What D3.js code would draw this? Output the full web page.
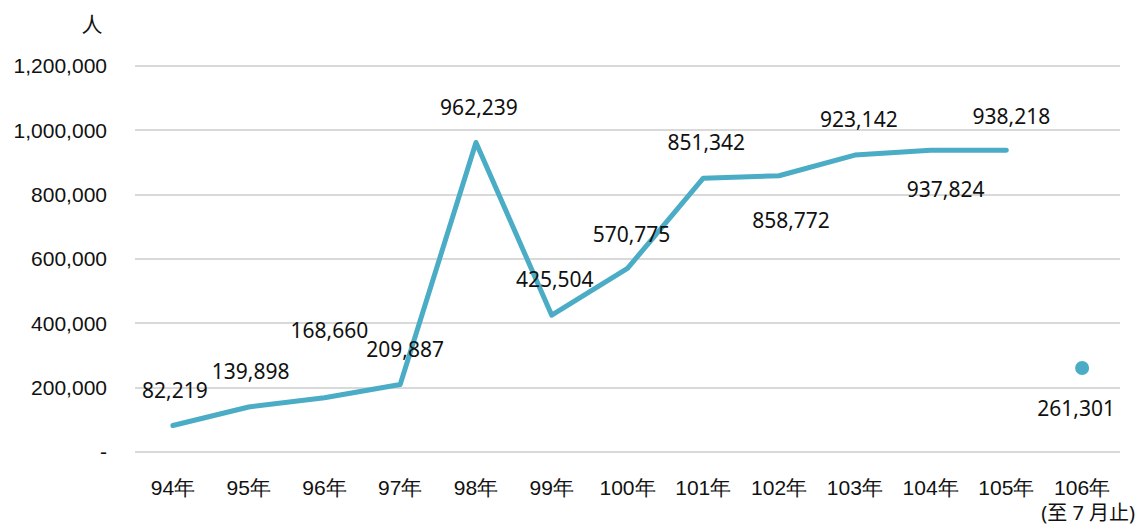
<!DOCTYPE html>
<html>
<head>
<meta charset="utf-8">
<script src="https://cdn.jsdelivr.net/npm/d3@7"></script>
<style>
  body { margin: 0; background: #fff; }
  svg { display: block; font-family: "Noto Sans", "Noto Sans CJK TC", sans-serif; }
  .grid line { stroke: #d9d9d9; stroke-width: 2; shape-rendering: crispEdges; }
  .axis text { font-size: 21px; fill: #111; }
  .lbl { font-size: 21px; fill: #111; }
</style>
</head>
<body>
<svg width="1142" height="529"></svg>
<script>
const years = ['94年', '95年', '96年', '97年', '98年', '99年', '100年', '101年', '102年', '103年', '104年', '105年', '106年'];
const visitors = [82219, 139898, 168660, 209887, 962239, 425504, 570775, 851342, 858772, 923142, 937824, 938218, 261301];
const yTicks = [0, 200000, 400000, 600000, 800000, 1000000, 1200000];
// the last year is only partial, drawn as a lone dot
const partialNote = '(至 7 月止)';
// label placement relative to each point: [dx, dy]
const labelNudge = [[2, -36], [2, -36], [5, -68], [5, -35], [3, -35], [3, -36], [4, -34], [3, -36], [12, 44], [4, -36], [15, 39], [5, -34], [-6, 40]];

const svg = d3.select('svg');
const margin = { top: 66, left: 135, right: 22, bottom: 77 };
const width = 1142 - margin.left - margin.right;
const height = 529 - margin.top - margin.bottom;

const x = d3.scaleBand().domain(years).range([0, width]);
const y = d3.scaleLinear().domain([0, 1200000]).range([height, 0]);
const fmt = d3.format(',');

const root = svg.append('g').attr('transform', `translate(${margin.left}, ${margin.top})`);

root.append('g')
  .attr('class', 'grid')
  .selectAll('line')
  .data(yTicks)
  .join('line')
  .attr('x1', 0)
  .attr('x2', width)
  .attr('y1', d => Math.round(y(d)))
  .attr('y2', d => Math.round(y(d)));

root.append('g')
  .attr('class', 'axis')
  .call(d3.axisLeft(y).tickValues(yTicks).tickFormat(d => d === 0 ? '-' : fmt(d)).tickSize(0).tickPadding(28))
  .call(g => g.select('.domain').remove());

root.append('g')
  .attr('class', 'axis')
  .attr('transform', `translate(0, ${height})`)
  .call(d3.axisBottom(x).tickSize(0).tickPadding(28))
  .call(g => g.select('.domain').remove());

root.append('text')
  .attr('class', 'lbl')
  .attr('x', x(years[years.length - 1]) + x.bandwidth() / 2 + 6)
  .attr('y', height + 68)
  .attr('text-anchor', 'middle')
  .style('font-size', '20px')
  .text(partialNote);

svg.append('text')
  .attr('class', 'lbl')
  .attr('x', 92)
  .attr('y', 32)
  .attr('text-anchor', 'middle')
  .text('人');

const cx = (d, i) => x(years[i]) + x.bandwidth() / 2;
const lineData = visitors.slice(0, visitors.length - 1);

root.append('path')
  .datum(lineData)
  .attr('fill', 'none')
  .attr('stroke', '#4bacc6')
  .attr('stroke-width', 5)
  .attr('stroke-linejoin', 'round')
  .attr('stroke-linecap', 'round')
  .attr('d', d3.line().x(cx).y(d => y(d)));

const last = visitors.length - 1;
root.append('circle')
  .attr('cx', cx(visitors[last], last))
  .attr('cy', y(visitors[last]))
  .attr('r', 7)
  .attr('fill', '#4bacc6');

root.append('g')
  .selectAll('text')
  .data(visitors)
  .join('text')
  .attr('class', 'lbl')
  .attr('text-anchor', 'middle')
  .attr('dominant-baseline', 'central')
  .attr('x', (d, i) => cx(d, i) + labelNudge[i][0])
  .attr('y', (d, i) => y(d) + labelNudge[i][1])
  .text(d => fmt(d));
</script>
</body>
</html>
